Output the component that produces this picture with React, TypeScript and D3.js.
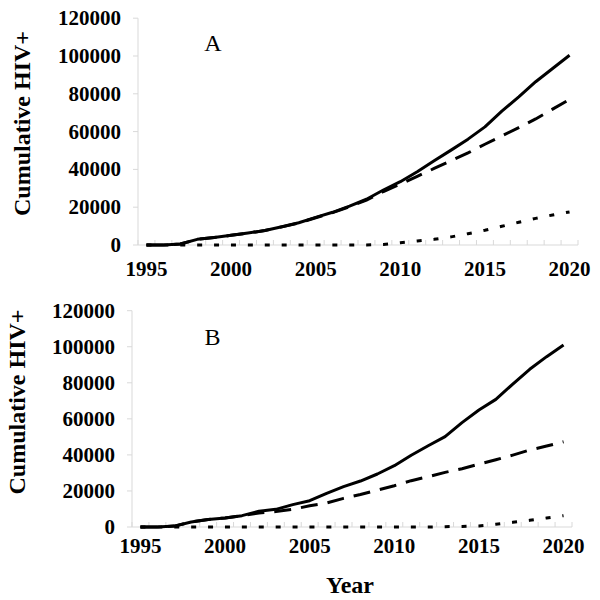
import React from "react";
import * as d3 from "d3";

const years = [1995, 1996, 1997, 1998, 1999, 2000, 2001, 2002, 2003, 2004, 2005, 2006, 2007, 2008, 2009, 2010, 2011, 2012, 2013, 2014, 2015, 2016, 2017, 2018, 2019, 2020];
const xTickLabels = [1995, 2000, 2005, 2010, 2015, 2020];
const yTicks = [0, 20000, 40000, 60000, 80000, 100000, 120000];

const solidA = [0, 0, 500, 3000, 4000, 5100, 6300, 7700, 9700, 11800, 14600, 17300, 20600, 24200, 29100, 33500, 38800, 44600, 50200, 56000, 62500, 70800, 78400, 86400, 93400, 100400];
const dashedA = [0, 0, 500, 3000, 4000, 5100, 6300, 7700, 9600, 11700, 14400, 17100, 20300, 23800, 28300, 32200, 36300, 40500, 44600, 48700, 53300, 57700, 62100, 66700, 71900, 77000];
const dottedA = [0, 0, 0, 0, 0, 0, 0, 0, 0, 0, 0, 0, 0, 0, 300, 1200, 2100, 3000, 4300, 6000, 7800, 9900, 12000, 14100, 15900, 17500];

const solidB = [0, 0, 500, 2800, 4200, 5000, 6300, 8700, 9800, 12400, 14600, 18700, 22400, 25500, 29400, 34000, 39800, 45100, 50100, 57900, 64900, 70800, 79300, 87500, 94500, 101000];
const dashedB = [0, 0, 500, 2800, 4200, 5000, 6300, 7800, 8600, 9800, 11800, 13300, 15900, 18000, 20500, 22900, 25700, 27900, 30300, 32300, 34900, 37300, 39900, 42700, 44900, 47300];
const dottedB = [0, 0, 0, 0, 0, 0, 0, 0, 0, 0, 0, 0, 0, 0, 0, 0, 0, 0, 200, 300, 600, 1500, 2600, 3700, 5000, 6300];

const AXIS = "#d9d9d9";
const FONT = "'Liberation Serif', 'Times New Roman', serif";

type PanelProps = {
  left: number; right: number; bottom: number; top: number;
  solid: number[]; dashed: number[]; dotted: number[];
  label: string; labelX: number; labelY: number;
  xLabelBaseline: number; yTitleX: number; yTitleY: number;
};

function Panel(p: PanelProps) {
  const x = d3.scaleBand<number>().domain(years).range([p.left, p.right]).padding(0);
  const bw = x.bandwidth();
  const cx = (yr: number) => (x(yr) as number) + bw / 2;
  const y = d3.scaleLinear().domain([0, 120000]).range([p.bottom, p.top]);
  const line = d3.line<number>().x((_, i) => cx(years[i])).y((v) => y(v));
  const boundaries = years.map((yr) => x(yr) as number).concat([p.right]);
  return (
    <g>
      <line x1={p.left} x2={p.left} y1={p.bottom} y2={p.top} stroke={AXIS} strokeWidth={1} />
      {yTicks.map((t) => (
        <g key={t}>
          <line x1={p.left - 5} x2={p.left} y1={y(t)} y2={y(t)} stroke={AXIS} strokeWidth={1} />
          <text x={p.left - 17} y={y(t)} dominantBaseline="central" textAnchor="end"
            fontFamily={FONT} fontWeight="bold" fontSize={21} fill="#000">{t}</text>
        </g>
      ))}
      <line x1={p.left} x2={p.right} y1={p.bottom} y2={p.bottom} stroke={AXIS} strokeWidth={1} />
      {boundaries.map((b, i) => (
        <line key={i} x1={b} x2={b} y1={p.bottom} y2={p.bottom - 5} stroke={AXIS} strokeWidth={1} />
      ))}
      {xTickLabels.map((yr) => (
        <text key={yr} x={cx(yr)} y={p.xLabelBaseline} textAnchor="middle"
          fontFamily={FONT} fontWeight="bold" fontSize={21} fill="#000">{yr}</text>
      ))}
      <path d={line(p.dotted) || ""} fill="none" stroke="#000" strokeWidth={3} strokeDasharray="5,11.9" />
      <path d={line(p.dashed) || ""} fill="none" stroke="#000" strokeWidth={3} strokeDasharray="17,10" />
      <path d={line(p.solid) || ""} fill="none" stroke="#000" strokeWidth={3} strokeLinejoin="round" />
      <text x={p.labelX} y={p.labelY} textAnchor="middle" fontFamily={FONT} fontSize={24} fill="#000">{p.label}</text>
      <text transform={`translate(${p.yTitleX},${p.yTitleY}) rotate(-90)`} textAnchor="middle"
        fontFamily={FONT} fontWeight="bold" fontSize={24} fill="#000">Cumulative HIV+</text>
    </g>
  );
}

export default function App() {
  return (
    <svg width={600} height={600} style={{ position: "absolute", left: 0, top: 0, background: "#fff" }}>
      <rect x={0} y={0} width={600} height={600} fill="#fff" />
      <Panel left={138} right={578} bottom={245} top={18.2}
        solid={solidA} dashed={dashedA} dotted={dottedA}
        label="A" labelX={213} labelY={51} xLabelBaseline={276} yTitleX={30} yTitleY={123.5} />
      <Panel left={132} right={572} bottom={527} top={310.7}
        solid={solidB} dashed={dashedB} dotted={dottedB}
        label="B" labelX={212.5} labelY={345} xLabelBaseline={553} yTitleX={25} yTitleY={402} />
      <text x={350} y={593} textAnchor="middle" fontFamily={FONT} fontWeight="bold" fontSize={24} fill="#000">Year</text>
    </svg>
  );
}
